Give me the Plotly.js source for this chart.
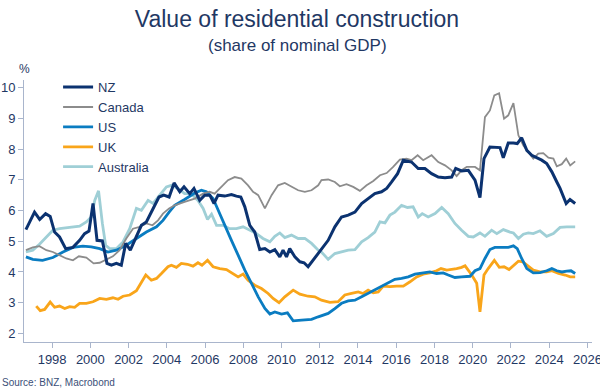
<!DOCTYPE html>
<html>
<head>
<meta charset="utf-8">
<script src="https://cdn.plot.ly/plotly-3.0.1.min.js"></script>
<style>html,body{margin:0;padding:0;background:#fff}#chart{width:600px;height:391px}</style>
</head>
<body>
<div id="chart"></div>
<script>
// ---- Data ----
const nzX = [1996.63,1997.08,1997.35,1997.66,1997.9,1998.13,1998.39,1998.71,1999.09,1999.44,1999.7,1999.93,2000.14,2000.35,2000.63,2000.87,2001.1,2001.36,2001.62,2001.85,2002.09,2002.41,2002.67,2002.93,2003.28,2003.59,2003.84,2004.12,2004.38,2004.68,2004.9,2005.2,2005.42,2005.72,2005.98,2006.25,2006.47,2006.68,2007.03,2007.38,2007.64,2007.87,2008.08,2008.34,2008.6,2008.86,2009.13,2009.39,2009.65,2009.91,2010.08,2010.26,2010.43,2010.7,2010.96,2011.18,2011.39,2011.65,2011.92,2012.44,2012.79,2013.14,2013.49,2013.84,2014.19,2014.53,2014.88,2015.23,2015.5,2015.76,2016.07,2016.37,2016.8,2017.15,2017.5,2017.85,2018.2,2018.55,2018.9,2019.11,2019.42,2019.77,2020.12,2020.38,2020.59,2020.9,2021.26,2021.43,2021.6,2021.86,2022.13,2022.33,2022.56,2022.83,2023.09,2023.35,2023.61,2023.87,2024.14,2024.4,2024.57,2024.89,2025.09,2025.36];
const nzY = [5.38,5.95,5.71,5.90,5.81,5.30,5.14,4.76,4.80,5.03,5.25,5.33,6.23,5.03,5.01,4.28,4.22,4.28,4.22,4.93,4.71,5.14,5.52,5.63,6.07,6.44,6.50,6.44,6.90,6.61,6.77,6.55,6.72,6.33,6.50,6.50,6.23,6.50,6.47,6.52,6.47,6.44,6.12,5.52,5.30,4.73,4.76,4.65,4.73,4.49,4.71,4.49,4.76,4.49,4.33,4.30,4.17,4.38,4.62,5.03,5.47,5.79,5.85,5.95,6.23,6.39,6.55,6.61,6.72,6.93,7.20,7.64,7.58,7.37,7.37,7.20,7.09,7.07,7.09,7.37,7.29,7.31,6.99,6.42,7.69,8.07,8.07,8.05,7.72,8.20,8.20,8.18,8.37,7.96,7.80,7.72,7.64,7.53,7.26,6.93,6.72,6.23,6.36,6.23];

const caX = [1996.63,1996.99,1997.34,1997.7,1998.04,1998.39,1998.74,1999.09,1999.4,1999.79,2000.17,2000.49,2000.84,2001.18,2001.53,2001.88,2002.23,2002.58,2002.93,2003.25,2003.54,2003.8,2004.12,2004.41,2004.93,2005.46,2005.9,2006.24,2006.5,2006.85,2007.2,2007.55,2007.9,2008.25,2008.51,2008.78,2009.13,2009.48,2009.82,2010.17,2010.52,2010.87,2011.22,2011.57,2011.92,2012.09,2012.44,2012.79,2013.05,2013.4,2013.75,2014.1,2014.45,2014.8,2015.15,2015.5,2015.84,2016.19,2016.54,2016.8,2017.12,2017.41,2017.85,2018.2,2018.55,2018.9,2019.16,2019.42,2019.69,2020.12,2020.38,2020.64,2020.9,2021.13,2021.38,2021.64,2021.86,2022.13,2022.39,2022.65,2022.91,2023.17,2023.43,2023.69,2023.96,2024.22,2024.4,2024.66,2024.89,2025.1,2025.36];
const caY = [4.71,4.80,4.84,4.71,4.65,4.55,4.44,4.38,4.51,4.47,4.28,4.30,4.41,4.51,4.71,5.09,5.41,5.47,5.58,5.52,5.68,5.90,6.07,6.17,6.28,6.39,6.55,6.61,6.55,6.77,6.99,7.09,7.04,6.82,6.61,6.50,6.07,6.50,6.82,6.90,6.77,6.66,6.61,6.66,6.82,6.99,7.01,6.93,6.79,6.86,6.77,6.64,6.82,6.96,7.15,7.22,7.42,7.66,7.69,7.64,7.80,7.64,7.80,7.58,7.47,7.31,7.12,7.31,7.42,7.42,7.31,9.04,9.26,9.75,9.82,8.99,9.10,9.50,8.45,8.12,7.91,7.69,7.85,7.87,7.72,7.69,7.44,7.51,7.69,7.47,7.60];

const usX = [1996.63,1996.99,1997.5,1998.04,1998.57,1999.09,1999.61,2000.05,2000.49,2000.92,2001.36,2001.88,2002.41,2002.93,2003.46,2003.8,2004.12,2004.41,2004.93,2005.46,2005.81,2006.07,2006.42,2006.68,2007.03,2007.38,2007.73,2008.08,2008.43,2008.78,2009.13,2009.39,2009.65,2010.0,2010.31,2010.61,2011.05,2011.57,2011.92,2012.44,2012.79,2013.14,2013.49,2013.84,2014.19,2014.53,2014.88,2015.23,2015.58,2015.93,2016.28,2016.63,2016.98,2017.33,2017.76,2018.11,2018.46,2018.72,2019.07,2019.42,2019.86,2020.12,2020.38,2020.64,2020.9,2021.16,2021.51,2021.86,2022.13,2022.33,2022.56,2022.83,2023.17,2023.52,2023.87,2024.14,2024.4,2024.66,2024.92,2025.14,2025.36];
const usY = [4.49,4.41,4.38,4.47,4.65,4.80,4.84,4.82,4.76,4.65,4.71,4.87,5.09,5.30,5.47,5.68,5.95,6.17,6.36,6.57,6.66,6.61,6.39,6.01,5.52,5.03,4.55,4.06,3.63,3.19,2.81,2.63,2.70,2.63,2.67,2.41,2.43,2.46,2.54,2.65,2.81,2.98,3.06,3.08,3.19,3.30,3.41,3.52,3.65,3.76,3.79,3.84,3.93,3.97,4.00,3.95,3.97,3.90,3.82,3.84,3.86,4.04,4.11,4.44,4.73,4.80,4.80,4.80,4.85,4.76,4.44,4.11,3.97,3.98,4.04,4.11,4.04,4.00,4.03,4.04,3.95];

const ukX = [1997.17,1997.38,1997.61,1997.9,1998.13,1998.39,1998.66,1998.92,1999.18,1999.44,1999.79,2000.14,2000.49,2000.84,2001.18,2001.45,2001.71,2002.06,2002.41,2002.67,2002.9,2003.19,2003.46,2003.72,2004.06,2004.24,2004.5,2004.76,2005.08,2005.37,2005.63,2005.84,2006.13,2006.42,2006.77,2007.12,2007.46,2007.73,2007.99,2008.25,2008.6,2008.95,2009.3,2009.56,2009.87,2010.17,2010.61,2010.96,2011.39,2011.74,2012.09,2012.53,2012.96,2013.31,2013.66,2014.01,2014.27,2014.53,2014.8,2015.06,2015.32,2015.67,2016.02,2016.37,2016.72,2017.07,2017.41,2017.76,2018.11,2018.34,2018.64,2018.9,2019.16,2019.42,2019.6,2019.95,2020.21,2020.38,2020.59,2020.81,2021.13,2021.39,2021.64,2021.9,2022.13,2022.39,2022.62,2022.91,2023.17,2023.52,2023.87,2024.14,2024.49,2024.84,2025.1,2025.36];
const ukY = [2.89,2.74,2.78,3.02,2.85,2.89,2.81,2.87,2.85,2.98,2.98,3.03,3.14,3.11,3.16,3.11,3.21,3.25,3.39,3.65,3.90,3.73,3.79,3.95,4.17,4.22,4.15,4.28,4.25,4.19,4.30,4.22,4.38,4.17,4.11,4.08,3.95,3.84,3.93,3.73,3.57,3.46,3.30,3.14,3.00,3.19,3.41,3.28,3.21,3.19,3.08,3.01,3.03,3.25,3.30,3.35,3.30,3.41,3.32,3.35,3.54,3.52,3.54,3.54,3.68,3.84,3.93,3.97,4.04,4.11,4.06,4.08,4.11,4.15,4.20,3.90,3.63,2.70,3.90,4.11,4.38,4.15,4.17,4.08,4.22,4.35,4.33,4.19,4.06,4.00,4.00,4.04,3.95,3.90,3.84,3.84];

const auX = [1996.63,1996.99,1997.34,1997.7,1998.04,1998.39,1998.92,1999.44,1999.79,2000.05,2000.23,2000.43,2000.63,2000.8,2001.01,2001.36,2001.71,2002.06,2002.41,2002.67,2003.02,2003.28,2003.63,2003.98,2004.24,2004.59,2004.93,2005.28,2005.63,2005.9,2006.13,2006.34,2006.6,2006.94,2007.29,2007.64,2007.99,2008.34,2008.69,2009.03,2009.39,2009.65,2009.91,2010.17,2010.52,2010.87,2011.22,2011.57,2011.92,2012.09,2012.44,2012.79,2013.14,2013.49,2013.84,2014.19,2014.53,2014.88,2015.15,2015.41,2015.67,2015.93,2016.28,2016.59,2016.88,2017.15,2017.36,2017.67,2018.03,2018.38,2018.72,2019.07,2019.42,2019.77,2020.03,2020.38,2020.64,2020.99,2021.26,2021.6,2021.95,2022.13,2022.39,2022.65,2022.91,2023.17,2023.52,2023.87,2024.22,2024.57,2024.92,2025.36];
const auY = [4.65,4.71,4.90,5.14,5.36,5.41,5.45,5.49,5.63,5.79,6.33,6.64,5.58,4.87,4.76,4.76,4.98,5.41,6.07,6.01,6.33,6.23,6.50,6.77,6.82,6.72,6.55,6.55,6.33,6.07,5.71,5.88,5.52,5.52,5.41,5.41,5.47,5.36,5.25,5.09,4.98,5.16,5.27,5.12,5.20,5.09,5.09,4.93,4.71,4.65,4.41,4.60,4.65,4.71,4.73,4.98,5.12,5.30,5.63,5.60,5.85,5.95,6.17,6.10,6.12,5.79,5.90,5.79,5.90,6.10,5.90,5.58,5.36,5.16,5.14,5.27,5.16,5.36,5.25,5.38,5.30,5.27,5.09,5.23,5.27,5.25,5.34,5.16,5.25,5.45,5.47,5.47];

const seriesNames = ['NZ','Canada','US','UK','Australia'];
const xTicks = [1998,2000,2002,2004,2006,2008,2010,2012,2014,2016,2018,2020,2022,2024,2026];
const yTicks = [2,3,4,5,6,7,8,9,10];

// ---- Styling ----
const navyText = '#1f3864';
const axisCol = '#a9b5cc';
const font = 'Liberation Sans, Arial, sans-serif';

function line(name, x, y, color, width) {
  return {type:'scatter', mode:'lines', name:name, x:x, y:y,
          line:{color:color, width:width}, hoverinfo:'skip'};
}

// drawn bottom-to-top: Australia, UK, US, Canada, NZ ; legend reversed
const traces = [
  line(seriesNames[4], auX, auY, '#9fcfd6', 2.8),
  line(seriesNames[3], ukX, ukY, '#f9a51a', 2.8),
  line(seriesNames[2], usX, usY, '#0a7cc1', 2.8),
  line(seriesNames[1], caX, caY, '#8c8c8c', 1.8),
  line(seriesNames[0], nzX, nzY, '#0b3270', 3)
];

const layout = {
  width:600, height:391,
  margin:{l:24, r:8, t:80, b:49},
  paper_bgcolor:'#ffffff', plot_bgcolor:'#ffffff',
  font:{family:font, color:navyText, size:13},
  title:{text:'Value of residential construction', font:{size:23, color:navyText, family:font},
         x:297/600, xanchor:'center', xref:'container', y:1-19/391, yref:'container', yanchor:'middle'},
  showlegend:true,
  legend:{x:0.06, xanchor:'left', y:1.03, yanchor:'top', traceorder:'reversed',
          font:{size:13, color:navyText}, bgcolor:'rgba(255,255,255,0)', tracegroupgap:0},
  xaxis:{type:'linear', range:[1996.53, 2026.24], tickvals:xTicks, ticktext:xTicks.map(String),
         showgrid:false, zeroline:false, showline:true, linecolor:axisCol, linewidth:1,
         ticks:'outside', ticklen:5, tickcolor:axisCol, tickfont:{size:13, color:navyText},
         ticklabeloverflow:'allow'},
  yaxis:{range:[1.72, 10.25], tickvals:yTicks, showgrid:false, zeroline:false,
         showline:true, linecolor:axisCol, linewidth:1, ticks:'outside', ticklen:5,
         tickcolor:axisCol, tickfont:{size:13, color:navyText}},
  annotations:[
    {text:'(share of nominal GDP)', xref:'paper', yref:'paper', x:(297-24)/568, xanchor:'center',
     y:1+ (80-46)/262, yanchor:'middle', showarrow:false, font:{size:17, color:navyText}},
    {text:'%', xref:'paper', yref:'paper', x:0, xanchor:'center', y:1+(80-69)/262, yanchor:'middle',
     showarrow:false, font:{size:12, color:navyText}},
    {text:'Source: BNZ, Macrobond', xref:'paper', yref:'paper', x:-24/568, xanchor:'left',
     y:-(382-342)/262, yanchor:'middle', showarrow:false, font:{size:10, color:'#3b4f78'}}
  ]
};

Plotly.newPlot('chart', traces, layout, {displayModeBar:false, staticPlot:true});
</script>
</body>
</html>
